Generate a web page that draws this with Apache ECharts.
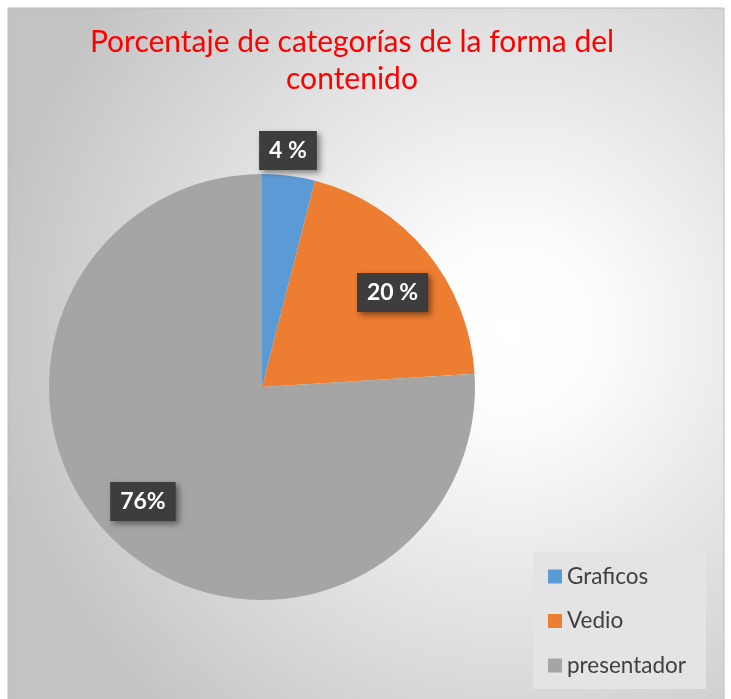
<!DOCTYPE html>
<html>
<head>
<meta charset="utf-8">
<script src="https://cdn.jsdelivr.net/npm/echarts@6/dist/echarts.min.js"></script>
<style>html,body{margin:0;padding:0;background:#fff;}#c{width:731px;height:699px;}</style>
</head>
<body>
<div id="c"></div>
<script>
const categories = ['Graficos', 'Vedio', 'presentador'];
const values = [4, 20, 76];
const labelTexts = ['4 %', '20 %', '76%'];
const colors = ['#5B9BD5', '#ED7D31', '#A5A5A5'];
const titleText = 'Porcentaje de categorías de la forma del\ncontenido';

const CX = 262, CY = 387, R = 213;
// label centre offsets relative to the pie centre, as fractions of the radius
const labelOffsets = [[0.122, -1.110], [0.613, -0.444], [-0.559, 0.537]];

const chart = echarts.init(document.getElementById('c'), null, {renderer: 'canvas'});
chart.setOption({
  animation: false,
  backgroundColor: '#ffffff',
  color: colors,
  graphic: [{
    type: 'rect', z: -10, silent: true,
    shape: {x: 8, y: 8, width: 716, height: 700},
    style: {
      fill: {type: 'radial', x: 0.7, y: 0.46, r: 0.75,
        colorStops: [{offset: 0, color: '#ffffff'}, {offset: 0.18, color: '#fcfcfc'}, {offset: 1, color: '#c3c3c3'}]},
      stroke: '#bdbdbd', lineWidth: 1
    }
  }],
  title: {
    text: titleText,
    left: 347, top: 19, textAlign: 'center',
    textStyle: {color: '#FF0000', fontSize: 30, fontWeight: 'normal', fontFamily: 'Lato', lineHeight: 37}
  },
  legend: {
    orient: 'vertical', left: 533, top: 552,
    backgroundColor: '#e4e4e4',
    padding: [13, 20, 12, 15],
    itemWidth: 14, itemHeight: 14, itemGap: 21.5,
    icon: 'rect',
    data: categories,
    textStyle: {color: '#404040', fontSize: 22.5, fontFamily: 'Lato', lineHeight: 21}
  },
  series: [{
    type: 'pie',
    center: [CX, CY], radius: R,
    startAngle: 90, clockwise: true,
    silent: true,
    data: categories.map((c, i) => ({name: c, value: values[i]})),
    label: {
      show: true, position: 'inside',
      formatter: p => labelTexts[p.dataIndex],
      color: '#ffffff', fontSize: 23, fontWeight: 'bold', fontFamily: 'Lato',
      lineHeight: 25,
      backgroundColor: '#3d3d3d',
      padding: [7, 10],
      shadowColor: 'rgba(0,0,0,0.45)', shadowBlur: 6, shadowOffsetX: 3, shadowOffsetY: 3
    },
    labelLine: {show: false},
    labelLayout: function (p) {
      const o = labelOffsets[p.dataIndex];
      return {
        x: CX + o[0] * R,
        y: CY + o[1] * R,
        align: 'center', verticalAlign: 'middle'
      };
    }
  }]
});
</script>
</body>
</html>
